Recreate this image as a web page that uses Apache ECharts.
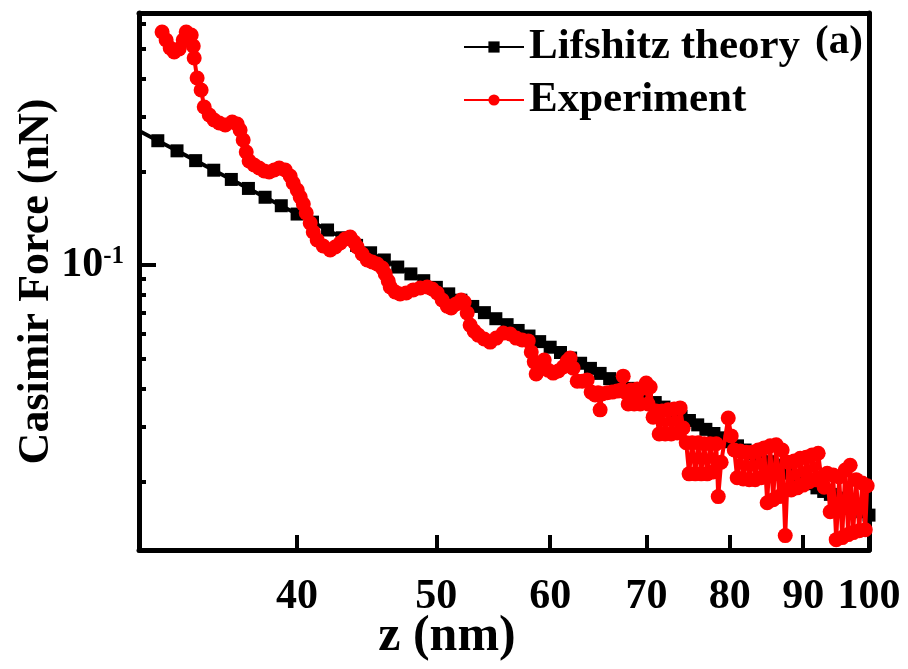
<!DOCTYPE html>
<html>
<head>
<meta charset="utf-8">
<script src="https://cdn.jsdelivr.net/npm/echarts@6.0.0/dist/echarts.min.js"></script>
<style>
html,body{margin:0;padding:0;background:#fff;}
#main{width:908px;height:669px;}
</style>
</head>
<body>
<div id="main"></div>
<script>
// ---- data ----
const xTicks = [40, 50, 60, 70, 80, 90, 100];
const yMinorTicks = [0.02, 0.03, 0.04, 0.05, 0.06, 0.07, 0.08, 0.09, 0.2, 0.3, 0.4, 0.5, 0.6];
const yMajorTicks = [0.1];

const theoryZ = [31,32,33,34,35,36,37,38,39,40,41,42,43,44,45,46,47,48,49,50,51,52,53,54,55,56,57,58,59,60,
  61,62,63,64,65,66,67,68,69,70,71,72,73,74,75,76,77,78,79,80,81,82,83,84,85,86,87,88,89,90,
  91,92,93,94,95,96,97,98,99,100];
const theoryF = [0.2719,0.2517,0.2335,0.2171,0.2022,0.1888,0.1766,0.1654,0.1553,0.1460,
  0.1375,0.1297,0.1224,0.1157,0.1095,0.1038,0.0985,0.0936,0.0890,0.0847,
  0.0807,0.0770,0.0735,0.0702,0.0671,0.0642,0.0615,0.0590,0.0566,0.0543,
  0.0522,0.0501,0.0482,0.0464,0.0447,0.0430,0.0415,0.0400,0.0386,0.0373,
  0.0360,0.0348,0.0336,0.0325,0.0315,0.0305,0.0295,0.0286,0.0277,0.0269,
  0.0261,0.0253,0.0246,0.0239,0.0232,0.0226,0.0219,0.0213,0.0207,0.0202,
  0.0197,0.0191,0.0186,0.0182,0.0177,0.0172,0.0168,0.0164,0.0160,0.0156];

const expZ = [32.22,32.43,32.64,32.85,33.11,33.33,33.49,33.76,33.87,33.92,
  34.08,34.30,34.47,34.75,35.02,35.31,35.65,36.05,36.34,36.51,
  36.69,36.87,37.04,37.34,37.64,37.95,38.25,38.56,38.87,39.25,
  39.56,39.75,40.01,40.20,40.40,40.59,40.85,41.05,41.31,41.71,
  42.18,42.52,42.86,43.20,43.55,43.83,44.04,44.40,44.76,45.12,
  45.48,45.85,46.07,46.29,46.44,46.81,47.18,47.64,48.18,48.72,
  49.27,49.67,50.07,50.47,50.88,51.20,51.61,52.03,52.28,52.53,
  52.78,53.12,53.47,53.98,54.50,55.03,55.65,56.28,56.82,57.37,
  57.93,58.21,58.49,58.67,59.05,59.43,59.81,60.29,60.78,61.26,
  61.66,61.95,62.25,62.66,63.16,63.67,64.07,64.48,64.79,65.00,
  65.21,65.74,66.27,66.80,67.23,67.45,67.66,67.99,68.32,68.65,
  68.98,69.31,69.64,69.98,70.20,70.43,70.76,71.10,71.45,71.79,
  72.14,72.49,72.84,73.19,73.54,73.89,74.25,74.61,74.96,75.33,
  75.70,76.06,76.43,76.79,77.16,77.54,77.91,78.29,78.54,78.91,
  79.81,80.19,80.58,80.96,81.36,81.75,82.14,82.54,82.93,83.33,
  83.73,84.14,84.54,84.95,85.36,85.77,86.18,86.60,87.01,87.44,
  87.86,88.28,88.70,89.13,89.57,90.00,90.43,90.86,91.30,91.74,
  92.18,92.63,93.07,93.52,93.97,94.42,94.88,95.34,95.80,96.26,
  96.72,97.03,97.50,97.97,98.44,98.92,99.40,99.71];
const expF = [0.5645,0.5318,0.5012,0.4865,0.4974,0.5318,0.5645,0.5519,0.5085,0.4653,
  0.4011,0.3668,0.3233,0.3047,0.2936,0.2871,0.2829,0.2893,0.2850,0.2725,
  0.2530,0.2314,0.2165,0.2101,0.2055,0.2010,0.1995,0.2025,0.2055,0.2025,
  0.1937,0.1839,0.1746,0.1657,0.1573,0.1472,0.1366,0.1278,0.1204,0.1151,
  0.1118,0.1143,0.1178,0.1213,0.1231,0.1186,0.1143,0.1085,0.1038,0.1022,
  0.1007,0.0978,0.0935,0.0888,0.0849,0.0818,0.0806,0.0812,0.0831,0.0843,
  0.0849,0.0837,0.0812,0.0771,0.0737,0.0727,0.0749,0.0771,0.0760,0.0700,
  0.0640,0.0612,0.0594,0.0577,0.0564,0.0581,0.0603,0.0599,0.0581,0.0573,
  0.0569,0.0524,0.0487,0.0445,0.0483,0.0494,0.0458,0.0448,0.0455,0.0469,
  0.0490,0.0501,0.0465,0.0422,0.0422,0.0426,0.0389,0.0381,0.0387,0.0341,
  0.0384,0.0387,0.0389,0.0392,0.0395,0.0438,0.0389,0.0356,0.0395,0.0356,
  0.0398,0.0356,0.0401,0.0416,0.0356,0.0404,0.0323,0.0338,0.0285,0.0338,
  0.0285,0.0341,0.0285,0.0343,0.0287,0.0346,0.0298,0.0267,0.0212,0.0267,
  0.0212,0.0267,0.0212,0.0265,0.0212,0.0265,0.0215,0.0265,0.0179,0.0231,
  0.0321,0.0281,0.0253,0.0206,0.0251,0.0204,0.0249,0.0203,0.0249,0.0203,
  0.0253,0.0206,0.0257,0.0171,0.0261,0.0175,0.0263,0.0179,0.0253,0.0134,
  0.0231,0.0188,0.0233,0.0191,0.0238,0.0195,0.0240,0.0200,0.0244,0.0203,
  0.0247,0.0206,0.0192,0.0213,0.0160,0.0210,0.0130,0.0207,0.0132,0.0218,
  0.0135,0.0226,0.0137,0.0203,0.0139,0.0198,0.0140,0.0194];

const X_MIN = 31.05, X_MAX = 100;
const Y_MIN = 0.01204, Y_MAX = 0.650;

// ---- chart ----
const FONT = '"Liberation Serif", "Times New Roman", serif';
const chart = echarts.init(document.getElementById('main'), null, {renderer: 'canvas'});
const theory = theoryZ.map((z, i) => [z, theoryF[i]]);
const experiment = expZ.map((z, i) => [z, expF[i]]);
const txt = {fontFamily: FONT, fontWeight: 'bold', fontSize: 40, color: '#000'};
const axisLine = {show: true, lineStyle: {color: '#000', width: 5}};

const option = {
  animation: false,
  backgroundColor: '#fff',
  grid: {left: 139, right: 39, top: 13, bottom: 119, containLabel: false},
  xAxis: [{
    type: 'log', logBase: 10, min: X_MIN, max: X_MAX, position: 'bottom',
    name: 'z (nm)', nameLocation: 'middle', nameGap: 62, nameMoveOverlap: false,
    nameTextStyle: Object.assign({}, txt, {fontSize: 50, padding: [0, 114, 0, 0]}),
    axisLine: axisLine,
    axisTick: {show: true, inside: true, length: 15, customValues: xTicks, lineStyle: {color: '#000', width: 4}},
    axisLabel: Object.assign({show: true, customValues: xTicks, margin: 26, hideOverlap: false,
      formatter: v => String(Math.round(v))}, txt, {fontSize: 42}),
    minorTick: {show: false}, splitLine: {show: false}
  }, {
    type: 'log', logBase: 10, min: X_MIN, max: X_MAX, position: 'top',
    axisLine: axisLine, axisTick: {show: false}, axisLabel: {show: false}, splitLine: {show: false}
  }],
  yAxis: [{
    type: 'log', logBase: 10, min: Y_MIN, max: Y_MAX, position: 'left',
    name: 'Casimir Force (nN)', nameLocation: 'middle', nameGap: 80, nameMoveOverlap: false,
    nameTextStyle: Object.assign({}, txt, {fontSize: 44}),
    axisLine: axisLine,
    axisTick: {show: true, inside: true, length: 7, customValues: yMinorTicks, lineStyle: {color: '#000', width: 4}},
    axisLabel: {show: false},
    minorTick: {show: false}, splitLine: {show: false}
  }, {
    type: 'log', logBase: 10, min: Y_MIN, max: Y_MAX, position: 'left',
    axisLine: {show: false},
    axisTick: {show: true, inside: true, length: 17, customValues: yMajorTicks, lineStyle: {color: '#000', width: 4}},
    axisLabel: {
      show: true, customValues: yMajorTicks, margin: 15,
      formatter: () => '{b|10}{s|-1}',
      rich: {
        b: {fontFamily: FONT, fontWeight: 'bold', fontSize: 42, color: '#000'},
        s: {fontFamily: FONT, fontWeight: 'bold', fontSize: 25, color: '#000', verticalAlign: 'top'}
      }
    },
    splitLine: {show: false}
  }, {
    type: 'log', logBase: 10, min: Y_MIN, max: Y_MAX, position: 'right',
    axisLine: axisLine, axisTick: {show: false}, axisLabel: {show: false}, splitLine: {show: false}
  }],
  legend: {
    orient: 'vertical', left: 458, top: 19, itemWidth: 60, itemHeight: 14, itemGap: 7,
    textStyle: Object.assign({}, txt, {fontSize: 43, lineHeight: 46}),
    data: ['Lifshitz theory', 'Experiment']
  },
  graphic: [{
    type: 'text', left: 815, top: 22,
    style: {text: '(a)', font: 'bold 41px "Liberation Serif"', fill: '#000'}
  }],
  series: [{
    name: 'Lifshitz theory', type: 'line', xAxisIndex: 0, yAxisIndex: 0,
    data: theory, symbol: 'rect', symbolSize: 13, showSymbol: true,
    itemStyle: {color: '#000'}, lineStyle: {color: '#000', width: 4}, z: 2
  }, {
    name: 'Experiment', type: 'line', xAxisIndex: 0, yAxisIndex: 0,
    data: experiment, symbol: 'circle', symbolSize: 15, showSymbol: true,
    itemStyle: {color: '#ff0000'}, lineStyle: {color: '#ff0000', width: 4}, z: 3
  }]
};
chart.setOption(option);
</script>
</body>
</html>
